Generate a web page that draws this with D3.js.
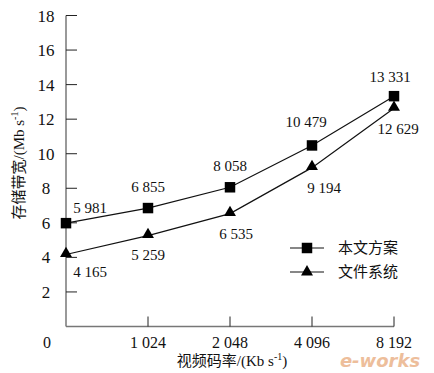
<!DOCTYPE html>
<html>
<head>
<meta charset="utf-8">
<script src="https://cdn.jsdelivr.net/npm/d3@7"></script>
<style>
  body { margin: 0; background: #fff; }
  text { font-family: "Liberation Serif", "Times New Roman", serif; fill: #111; }
  .cjk { font-family: "Noto Sans CJK SC", serif; }
</style>
</head>
<body>
<div id="chart"></div>
<script>
const rates = ["0", "1 024", "2 048", "4 096", "8 192"];
const oursVals = [5.981, 6.855, 8.058, 10.479, 13.331];
const fsVals = [4.165, 5.259, 6.535, 9.194, 12.629];
const oursLabels = ["5 981", "6 855", "8 058", "10 479", "13 331"];
const fsLabels = ["4 165", "5 259", "6 535", "9 194", "12 629"];
const yTicks = [2, 4, 6, 8, 10, 12, 14, 16, 18];

const width = 434, height = 373;
const svg = d3.select("#chart").append("svg")
  .attr("width", width).attr("height", height);

const x = d3.scalePoint().domain(rates).range([66, 394]);
const y = d3.scaleLinear().domain([0, 18]).range([326.5, 15.5]);

// axes
const axisColor = "#777";
svg.append("line").attr("x1", 66).attr("x2", 66).attr("y1", y(18)).attr("y2", y(0))
  .attr("stroke", axisColor).attr("stroke-width", 1.5);
svg.append("line").attr("x1", 66).attr("x2", 394).attr("y1", y(0)).attr("y2", y(0))
  .attr("stroke", axisColor).attr("stroke-width", 1.5);

svg.append("g").selectAll("line").data(yTicks).join("line")
  .attr("x1", 66).attr("x2", 77).attr("y1", d => y(d)).attr("y2", d => y(d))
  .attr("stroke", "#222").attr("stroke-width", 1);
svg.append("g").selectAll("text").data(yTicks).join("text")
  .attr("x", 46).attr("y", d => y(d) + 6).attr("text-anchor", "middle")
  .attr("font-size", 17).text(d => d);

svg.append("g").selectAll("line").data(rates.slice(1)).join("line")
  .attr("x1", d => x(d)).attr("x2", d => x(d)).attr("y1", y(0)).attr("y2", y(0) - 10)
  .attr("stroke", "#222").attr("stroke-width", 1);
svg.append("g").selectAll("text").data(rates.slice(1)).join("text")
  .attr("x", d => x(d)).attr("y", 348).attr("text-anchor", "middle")
  .attr("font-size", 16).text(d => d);
svg.append("text").attr("x", 47).attr("y", 348).attr("text-anchor", "middle")
  .attr("font-size", 16).text("0");

// axis titles
const yt = svg.append("text").attr("transform", "translate(24,163) rotate(-90)")
  .attr("text-anchor", "middle").attr("font-size", 15);
yt.append("tspan").attr("class", "cjk").attr("font-size", 15).text("存储带宽");
yt.append("tspan").text("/(Mb s");
yt.append("tspan").attr("dy", -6).attr("font-size", 10).text("-1");
yt.append("tspan").attr("dy", 6).text(")");

const xt = svg.append("text").attr("x", 232).attr("y", 366)
  .attr("text-anchor", "middle").attr("font-size", 15);
xt.append("tspan").attr("class", "cjk").attr("font-size", 15).text("视频码率");
xt.append("tspan").text("/(Kb s");
xt.append("tspan").attr("dy", -6).attr("font-size", 10).text("-1");
xt.append("tspan").attr("dy", 6).text(")");

// lines
const line = d3.line().x((d, i) => x(rates[i])).y(d => y(d));
svg.append("path").datum(oursVals).attr("d", line)
  .attr("fill", "none").attr("stroke", "#111").attr("stroke-width", 1.2);
svg.append("path").datum(fsVals).attr("d", line)
  .attr("fill", "none").attr("stroke", "#111").attr("stroke-width", 1.2);

const sq = d3.symbol(d3.symbolSquare, 110);
const tri = d3.symbol(d3.symbolTriangle, 62);
svg.append("g").selectAll("path").data(oursVals).join("path")
  .attr("d", sq()).attr("transform", (d, i) => `translate(${x(rates[i])},${y(d)})`)
  .attr("fill", "#000");
svg.append("g").selectAll("path").data(fsVals).join("path")
  .attr("d", tri()).attr("transform", (d, i) => `translate(${x(rates[i])},${y(d) - 1})`)
  .attr("fill", "#000");

// value labels
const upOff = [[24, -10], [0, -16], [0, -16], [-6, -18], [-4, -14]];
const downOff = [[24, 22], [0, 24], [6, 25], [12, 25], [4, 26]];
svg.append("g").selectAll("text").data(oursLabels).join("text")
  .attr("x", (d, i) => x(rates[i]) + upOff[i][0])
  .attr("y", (d, i) => y(oursVals[i]) + upOff[i][1])
  .attr("text-anchor", "middle").attr("font-size", 15).text(d => d);
svg.append("g").selectAll("text").data(fsLabels).join("text")
  .attr("x", (d, i) => x(rates[i]) + downOff[i][0])
  .attr("y", (d, i) => y(fsVals[i]) + downOff[i][1])
  .attr("text-anchor", "middle").attr("font-size", 15).text(d => d);

// legend
const legend = [["本文方案", sq()], ["文件系统", tri()]];
const lg = svg.append("g").selectAll("g").data(legend).join("g")
  .attr("transform", (d, i) => `translate(0,${248 + i * 24})`);
lg.append("line").attr("x1", 290).attr("x2", 324).attr("stroke", "#111").attr("stroke-width", 1.2);
lg.append("path").attr("d", d => d[1]).attr("transform", "translate(307,0)").attr("fill", "#000");
lg.append("text").attr("class", "cjk").attr("x", 338).attr("y", 5)
  .attr("font-size", 15).text(d => d[0]);

// watermark
svg.append("text").attr("x", 380).attr("y", 367).attr("text-anchor", "middle")
  .attr("font-size", 18).attr("font-style", "italic").attr("font-weight", "bold")
  .style("font-family", "DejaVu Sans").style("fill", "#e8a97a").attr("opacity", 0.75)
  .text("e-works");
</script>
</body>
</html>
